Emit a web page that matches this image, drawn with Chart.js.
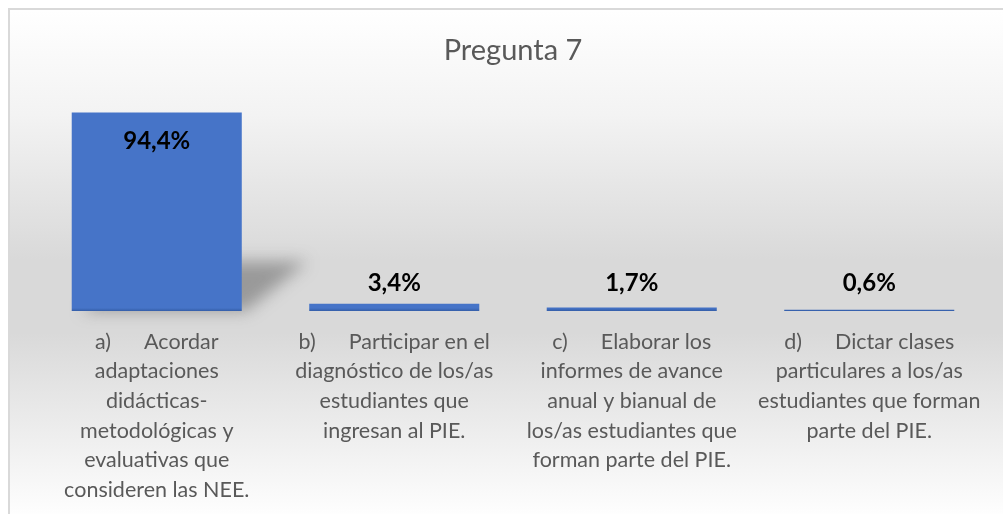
<!DOCTYPE html>
<html>
<head>
<meta charset="utf-8">
<script src="https://cdn.jsdelivr.net/npm/chart.js@4.4.1/dist/chart.umd.min.js"></script>
<style>
  html, body { margin: 0; padding: 0; background: #ffffff; }
  #wrap { position: relative; width: 1003px; height: 514px; overflow: hidden; }
  #bg {
    position: absolute; left: 8px; top: 8px; width: 1000px; height: 520px;
    border-left: 2px solid #d9d9d9; border-top: 2px solid #d9d9d9;
    background: linear-gradient(to bottom, #ffffff 0%, #f3f3f3 20%, #d9d9d9 48%, #d9d9d9 62%, #ffffff 98%);
  }
  canvas { position: absolute; left: 0; top: 0; }
</style>
</head>
<body>
<div id="wrap">
  <div id="bg"></div>
  <canvas id="c" width="1003" height="514"></canvas>
</div>
<script>
const title = "Pregunta 7";
const categories = [
  ["a)      Acordar", "adaptaciones", "didácticas-", "metodológicas y", "evaluativas que", "consideren las NEE."],
  ["b)      Participar en el", "diagnóstico de los/as", "estudiantes que", "ingresan al PIE."],
  ["c)      Elaborar los", "informes de avance", "anual y bianual de", "los/as estudiantes que", "forman parte del PIE."],
  ["d)      Dictar clases", "particulares a los/as", "estudiantes que forman", "parte del PIE."]
];
const values = [94.4, 3.4, 1.7, 0.6];
const valueLabels = ["94,4%", "3,4%", "1,7%", "0,6%"];

const FONT = "Lato, 'Open Sans', sans-serif";

const barStyle = {
  id: 'barStyle',
  beforeDatasetsDraw(chart) {
    const ctx = chart.ctx;
    const meta = chart.getDatasetMeta(0);
    meta.data.forEach(el => {
      const h = el.base - el.y;
      const g = ctx.createLinearGradient(0, Math.min(el.y, el.base - 3), 0, el.base);
      g.addColorStop(0, '#4674c8');
      g.addColorStop(1, '#345ea8');
      el.options.backgroundColor = g;
      if (h > 20) {
        const left = el.x - el.width / 2, right = el.x + el.width / 2;
        const sh = h * 0.25, dx = h * 0.33;
        ctx.save();
        ctx.filter = 'blur(8px)';
        ctx.fillStyle = 'rgba(90,90,90,0.5)';
        ctx.beginPath();
        ctx.moveTo(left + 10, el.base);
        ctx.lineTo(right + 4, el.base);
        ctx.lineTo(right + dx, el.base - sh);
        ctx.lineTo(left + dx, el.base - sh);
        ctx.closePath();
        ctx.fill();
        ctx.restore();
      }
    });
  },
  afterDatasetsDraw(chart) {
    const ctx = chart.ctx;
    const meta = chart.getDatasetMeta(0);
    ctx.save();
    ctx.font = "bold 24px " + FONT;
    ctx.fillStyle = '#000000';
    ctx.textAlign = 'center';
    ctx.textBaseline = 'middle';
    meta.data.forEach((el, i) => {
      const h = el.base - el.y;
      const y = h > 60 ? el.y + 29 : el.base - 28;
      ctx.fillText(valueLabels[i], el.x, y);
    });
    ctx.restore();
  }
};

new Chart(document.getElementById('c'), {
  type: 'bar',
  data: {
    labels: categories,
    datasets: [{
      data: values,
      backgroundColor: '#4472c4',
      borderWidth: 0,
      barPercentage: 0.716,
      categoryPercentage: 1.0
    }]
  },
  options: {
    responsive: false,
    animation: false,
    layout: { padding: { left: 38, right: 15, top: 0, bottom: 0 } },
    plugins: {
      legend: { display: false },
      tooltip: { enabled: false },
      title: {
        display: true,
        text: title,
        color: '#595959',
        font: { family: FONT, size: 29, weight: 'normal', lineHeight: 1.2 },
        padding: { top: 33, bottom: 33 }
      }
    },
    scales: {
      y: { display: false, min: 0, max: 100 },
      x: {
        grid: { display: false, drawTicks: false },
        border: { display: false },
        afterFit(scale) { scale.height = 203; },
        ticks: {
          color: '#595959',
          font: { family: FONT, size: 21.5, lineHeight: 1.377 },
          padding: 16,
          maxRotation: 0,
          autoSkip: false
        }
      }
    }
  },
  plugins: [barStyle]
});
</script>
</body>
</html>
